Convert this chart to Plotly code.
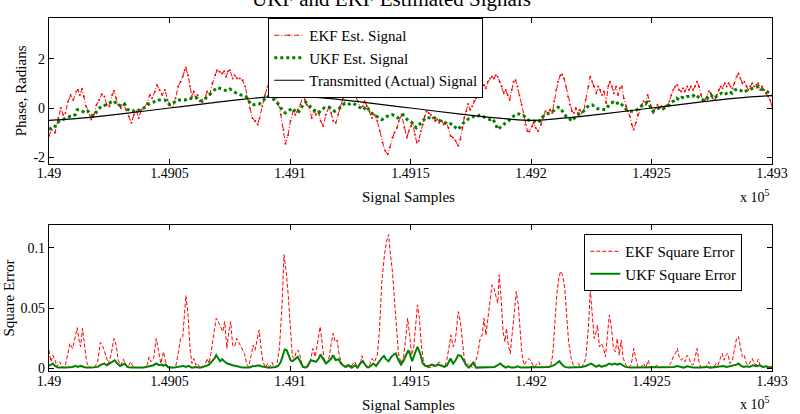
import plotly.graph_objects as go

X0 = 149000  # first sample index
x_tickvals = [149000, 149050, 149100, 149150, 149200, 149250, 149300]
x_ticktext = ["1.49", "1.4905", "1.491", "1.4915", "1.492", "1.4925", "1.493"]

# (sample offset from X0, value)
ekf_signal = [
    (0, -1.13), (1.1, -0.87), (2.5, -1.0), (3.8, -0.40), (4.9, 0.0), (5.9, -0.27), (6.8, -0.20), (7.9, 0.27),
    (9.0, 0.53), (10.1, 0.33), (11.3, 0.67), (12.0, 0.73), (12.8, 0.53), (13.7, 0.77), (14.5, 0.47), (15.4, 0.07),
    (16.4, -0.13), (17.5, -0.47), (18.6, -0.27), (19.7, 0.13), (20.8, 0.33), (21.9, 0.56), (23.0, 0.47), (24.0, 0.13),
    (25.1, 0.07), (26.2, 0.53), (27.0, 0.69), (27.9, 0.40), (28.7, 0.13), (29.8, 0.0), (30.9, 0.13), (32.0, -0.07),
    (33.1, -0.33), (34.2, -0.60), (35.2, -0.27), (36.3, -0.13), (37.3, -0.40), (38.3, -0.07), (39.3, 0.0), (40.7, 0.20),
    (41.8, 0.53), (42.8, 0.40), (43.9, 0.67), (44.8, 0.93), (45.9, 0.73), (47.0, 0.53), (48.1, 0.73), (49.2, 0.33),
    (50.3, 0.13), (51.4, 0.03), (52.5, 0.40), (53.6, 0.87), (54.6, 1.07), (55.5, 1.27), (56.3, 1.53), (56.8, 1.63),
    (57.7, 1.33), (58.5, 0.87), (59.3, 0.47), (60.1, 0.67), (60.9, 0.40), (61.7, 0.53), (62.6, 0.27), (63.7, 0.24),
    (64.8, 0.40), (65.6, 0.67), (66.7, 0.53), (67.8, 1.0), (68.9, 1.33), (69.7, 1.53), (70.8, 1.47), (71.9, 1.40),
    (72.7, 1.49), (73.5, 1.27), (74.3, 1.49), (75.1, 1.53), (76.2, 1.20), (77.0, 1.33), (78.1, 1.20), (79.2, 1.20),
    (80.3, 1.13), (81.4, 0.87), (82.4, 0.40), (83.3, 0.0), (84.4, -0.40), (85.5, -0.53), (86.6, -0.67), (87.4, -0.40),
    (88.5, 0.07), (89.6, 0.53), (90.7, 0.87), (91.5, 0.67), (92.3, 0.73), (93.2, 0.93), (94.0, 0.53), (95.1, 0.20),
    (96.2, -0.27), (97.3, -0.87), (98.1, -1.45), (99.2, -1.10), (100.2, -0.53), (101.3, -0.13), (102.2, -0.27),
    (103.2, -0.07), (104.3, 0.13), (105.4, 0.53), (106.3, 0.33), (107.0, 0.13), (108.1, 0.0), (109.0, -0.40),
    (110.0, -0.13), (110.8, -0.27), (111.8, -0.13), (112.7, -0.53), (113.8, -0.73), (114.9, -0.27), (116.0, 0.0),
    (117.1, -0.20), (117.9, -0.53), (119.0, -0.60), (120.0, -0.27), (120.9, 0.07), (122.0, 0.40), (122.8, 0.67),
    (123.9, 0.73), (124.8, 0.53), (125.6, 0.67), (126.4, 0.80), (127.2, 0.47), (128.2, 0.27), (129.1, 0.0),
    (130.2, 0.07), (131.0, 0.27), (131.9, 0.07), (133.0, -0.13), (134.0, -0.40), (135.1, -0.27), (136.2, -0.53),
    (137.3, -0.93), (138.4, -1.40), (139.5, -1.73), (140.6, -1.87), (141.4, -1.60), (142.5, -1.20), (143.3, -1.0),
    (144.4, -0.80), (145.2, -0.53), (146.3, -0.27), (147.4, -0.80), (148.5, -1.20), (149.3, -0.93), (150.2, -0.73),
    (151.0, -0.60), (151.8, -1.07), (152.6, -1.40), (153.4, -1.33), (154.3, -0.93), (155.1, -0.67), (155.9, -0.33),
    (156.7, -0.13), (157.5, -0.20), (158.4, -0.27), (159.2, -0.40), (160.3, -0.53), (161.1, -0.47), (161.9, -0.60),
    (163.0, -0.53), (163.8, -0.67), (164.9, -0.60), (165.7, -0.80), (166.6, -1.13), (167.6, -1.20), (168.7, -1.33),
    (169.8, -1.53), (170.7, -1.27), (171.5, -0.80), (172.3, -0.40), (173.1, -0.13), (173.9, 0.16), (174.8, -0.07),
    (175.6, 0.07), (176.4, 0.27), (177.2, 0.40), (178.0, 0.53), (178.9, 0.73), (179.7, 0.87), (180.5, 0.93),
    (181.3, 0.80), (182.1, 1.07), (183.0, 1.20), (183.8, 1.27), (184.6, 1.20), (185.4, 1.33), (186.2, 1.27),
    (187.0, 1.07), (187.9, 0.87), (188.7, 0.60), (189.5, 0.73), (190.3, 0.53), (191.1, 0.33), (192.0, 0.73),
    (192.8, 1.07), (193.6, 1.13), (194.4, 0.87), (195.2, 0.53), (196.1, 0.13), (196.9, -0.27), (197.7, -0.67),
    (198.5, -0.93), (199.4, -0.95), (200.4, -0.75), (201.1, -0.60), (201.9, -0.80), (203.0, -0.93), (204.1, -0.67),
    (204.9, -0.40), (206.0, -0.13), (207.1, -0.20), (207.9, -0.07), (208.8, -0.20), (209.6, 0.27), (210.4, 0.73),
    (211.2, 1.07), (212.2, 1.33), (212.9, 1.36), (213.7, 1.20), (214.5, 0.87), (215.3, 0.47), (216.1, 0.13),
    (217.0, -0.13), (217.8, -0.20), (218.6, 0.0), (219.4, -0.20), (220.2, -0.07), (221.1, -0.20), (221.9, -0.13),
    (222.7, 0.33), (223.8, 0.87), (224.6, 1.27), (225.4, 1.07), (226.2, 0.87), (227.1, 0.60), (227.9, 0.87),
    (228.7, 0.73), (229.5, 0.53), (230.3, 0.67), (231.2, 0.20), (232.0, 0.87), (232.8, 1.07), (233.6, 0.87),
    (234.4, 0.60), (235.3, 0.87), (236.1, 0.53), (236.9, 0.80), (237.7, 0.87), (238.5, 0.40), (239.4, 0.07),
    (240.2, -0.13), (241.0, -0.33), (241.8, -0.67), (242.6, -0.87), (243.5, -0.60), (244.3, -0.27), (245.1, -0.07),
    (245.9, 0.13), (246.7, 0.27), (247.6, 0.13), (248.4, 0.53), (249.2, 0.27), (250.0, 0.0), (250.8, -0.20),
    (251.7, 0.0), (252.5, 0.13), (253.3, 0.0), (254.1, 0.07), (254.9, -0.03), (255.8, 0.07), (256.6, 0.13),
    (257.4, 0.27), (258.2, 0.53), (259.0, 0.73), (259.9, 0.87), (260.7, 0.93), (261.5, 0.73), (262.3, 0.67),
    (263.1, 0.80), (263.9, 0.67), (264.8, 0.87), (265.6, 0.73), (266.4, 0.87), (267.2, 0.73), (268.0, 0.87),
    (268.9, 1.07), (269.7, 0.87), (270.5, 0.53), (271.3, 0.27), (272.1, 0.33), (273.0, 0.47), (273.8, 0.67),
    (274.6, 0.60), (275.4, 0.40), (276.3, 0.33), (277.1, 0.53), (277.9, 0.73), (278.7, 0.87), (279.5, 0.80),
    (280.4, 1.0), (281.2, 0.87), (282.0, 1.0), (282.8, 0.87), (283.6, 0.80), (284.4, 1.0), (285.3, 1.27),
    (286.1, 1.40), (286.9, 1.20), (287.7, 1.0), (288.5, 1.07), (289.4, 0.87), (290.2, 0.73), (291.0, 0.87),
    (291.8, 1.0), (292.6, 0.87), (293.5, 0.93), (294.3, 1.0), (295.1, 0.73), (295.9, 0.87), (296.7, 0.73),
    (297.5, 0.60), (298.4, 0.47), (299.2, 0.33), (300.0, 0.07),
]

ukf_signal = [
    (0, -0.87), (1.1, -0.80), (2.2, -0.80), (3.3, -0.60), (4.4, -0.53), (5.5, -0.47), (6.6, -0.43), (7.7, -0.40),
    (8.7, -0.33), (9.8, -0.33), (10.9, -0.27), (11.7, -0.07), (12.8, -0.07), (13.9, -0.13), (15.0, -0.20),
    (16.1, -0.13), (17.2, -0.27), (18.3, -0.33), (19.4, -0.20), (20.5, -0.07), (21.6, 0.07), (22.7, 0.07),
    (23.8, 0.16), (24.9, 0.20), (26.0, 0.24), (27.0, 0.29), (28.1, 0.16), (29.2, 0.13), (30.3, 0.07), (31.4, 0.16),
    (32.5, -0.03), (33.6, -0.13), (34.7, -0.13), (35.8, -0.07), (36.9, -0.11), (38.0, -0.03), (39.1, 0.0),
    (40.2, 0.03), (41.3, 0.16), (42.3, 0.20), (43.4, 0.24), (44.5, 0.33), (45.6, 0.33), (46.7, 0.33), (47.8, 0.33),
    (48.9, 0.29), (50.0, 0.13), (51.1, 0.16), (52.2, 0.24), (53.3, 0.33), (54.4, 0.33), (55.5, 0.33), (56.6, 0.33),
    (57.7, 0.40), (58.7, 0.40), (59.8, 0.37), (60.9, 0.43), (62.0, 0.33), (63.1, 0.29), (64.2, 0.29), (65.3, 0.43),
    (66.4, 0.53), (67.5, 0.64), (68.6, 0.73), (69.7, 0.83), (70.8, 0.80), (71.9, 0.77), (73.0, 0.73), (74.0, 0.69),
    (75.1, 0.77), (76.2, 0.69), (77.3, 0.64), (78.4, 0.56), (79.5, 0.53), (80.6, 0.53), (81.7, 0.47), (82.8, 0.27),
    (83.9, 0.13), (85.0, 0.13), (86.1, 0.13), (87.2, 0.16), (88.3, 0.24), (89.3, 0.33), (90.4, 0.47), (91.5, 0.47),
    (92.6, 0.37), (93.7, 0.33), (94.8, 0.20), (95.9, 0.07), (97.0, -0.13), (98.1, -0.20), (99.2, -0.13),
    (100.3, -0.05), (101.0, 0.0), (102.1, -0.13), (103.2, -0.20), (104.3, -0.07), (105.4, 0.13), (106.5, 0.24),
    (107.5, 0.13), (108.6, 0.03), (109.7, -0.07), (110.8, -0.13), (111.9, -0.20), (113.0, -0.07), (114.1, 0.0),
    (115.2, 0.0), (116.3, 0.03), (117.4, -0.07), (118.5, -0.13), (119.6, -0.07), (120.7, 0.0), (121.8, 0.11),
    (122.8, 0.20), (123.9, 0.16), (125.0, 0.16), (126.1, 0.20), (127.2, 0.13), (128.3, 0.07), (129.4, 0.0),
    (130.5, -0.07), (131.6, 0.07), (132.7, -0.07), (133.8, -0.20), (134.9, -0.27), (136.0, -0.33), (137.1, -0.40),
    (138.1, -0.47), (139.2, -0.40), (140.3, -0.33), (141.4, -0.33), (142.5, -0.27), (143.6, -0.33), (144.7, -0.40),
    (145.8, -0.33), (146.9, -0.27), (148.0, -0.40), (149.1, -0.51), (150.2, -0.56), (151.3, -0.67), (152.4, -0.80),
    (153.4, -0.69), (154.5, -0.60), (155.6, -0.47), (156.7, -0.37), (157.8, -0.40), (158.9, -0.43), (160.0, -0.40),
    (161.1, -0.43), (162.2, -0.51), (163.3, -0.53), (164.4, -0.60), (165.5, -0.67), (166.6, -0.64), (167.7, -0.67),
    (168.7, -0.80), (169.8, -0.87), (170.9, -0.73), (172.0, -0.60), (173.1, -0.53), (174.2, -0.43), (175.3, -0.40),
    (176.4, -0.33), (177.5, -0.37), (178.6, -0.29), (179.7, -0.33), (180.8, -0.37), (181.9, -0.40), (183.0, -0.47),
    (184.0, -0.43), (185.1, -0.60), (186.2, -0.87), (187.3, -0.77), (188.4, -0.67), (189.5, -0.60), (190.6, -0.53),
    (191.7, -0.40), (192.8, -0.33), (193.9, -0.24), (195.0, -0.24), (196.1, -0.27), (197.2, -0.33), (198.3, -0.47),
    (199.3, -0.51), (200.4, -0.53), (201.4, -0.53), (202.5, -0.60), (203.6, -0.53), (204.7, -0.37), (205.8, -0.27),
    (206.9, -0.24), (207.9, -0.20), (209.0, -0.13), (210.1, -0.07), (211.2, 0.03), (212.3, 0.0), (213.4, -0.20),
    (214.5, -0.33), (215.6, -0.37), (216.7, -0.53), (217.8, -0.43), (218.9, -0.33), (220.0, -0.24), (221.1, -0.20),
    (222.2, -0.07), (223.2, 0.03), (224.3, 0.11), (225.4, 0.13), (226.5, 0.03), (227.6, -0.03), (228.7, -0.03),
    (229.8, -0.04), (230.9, -0.07), (232.0, 0.07), (233.1, 0.20), (234.2, 0.24), (235.3, 0.16), (236.4, 0.24),
    (237.5, 0.16), (238.5, 0.07), (239.6, -0.07), (240.7, -0.13), (241.8, -0.13), (242.9, -0.13), (244.0, -0.07),
    (245.1, 0.03), (246.2, 0.13), (247.3, 0.20), (248.4, 0.24), (249.5, 0.07), (250.6, -0.13), (251.7, -0.07),
    (252.8, 0.0), (253.8, 0.03), (254.9, -0.03), (256.0, 0.03), (257.1, 0.11), (258.2, 0.24), (259.3, 0.29),
    (260.4, 0.40), (261.5, 0.33), (262.6, 0.43), (263.7, 0.40), (264.8, 0.47), (265.9, 0.47), (267.0, 0.47),
    (268.1, 0.56), (269.2, 0.47), (270.3, 0.37), (271.4, 0.33), (272.5, 0.29), (273.6, 0.47), (274.7, 0.53),
    (275.8, 0.40), (276.8, 0.47), (277.9, 0.56), (279.0, 0.60), (280.1, 0.53), (281.2, 0.60), (282.3, 0.67),
    (283.4, 0.60), (284.6, 0.73), (285.7, 0.77), (286.8, 0.73), (287.9, 0.64), (289.0, 0.67), (290.1, 0.73),
    (291.2, 0.77), (292.3, 0.80), (293.4, 0.83), (294.5, 0.87), (295.6, 0.77), (296.7, 0.73), (297.9, 0.67),
    (299.0, 0.60), (300.0, 0.51),
]

transmitted = [
    (0, -0.50), (10, -0.44), (20, -0.35), (30, -0.24), (40, -0.12), (50, 0.0), (60, 0.12), (70, 0.24), (80, 0.35),
    (90, 0.44), (100, 0.50), (110, 0.44), (120, 0.35), (130, 0.24), (140, 0.12), (150, 0.0), (160, -0.12),
    (170, -0.24), (180, -0.35), (190, -0.44), (200, -0.50), (210, -0.44), (220, -0.35), (230, -0.24), (240, -0.12),
    (250, 0.0), (260, 0.12), (270, 0.24), (280, 0.35), (290, 0.44), (300, 0.50),
]

ekf_sq_err = [
    (0, 0.0153), (0.8, 0.0056), (1.6, 0.0111), (2.5, 0.0069), (3.3, 0.0014), (4.4, 0.0056), (5.5, 0.0014),
    (6.6, 0.0008), (7.7, 0.0111), (8.7, 0.0208), (9.8, 0.0167), (10.9, 0.0264), (11.7, 0.0339), (12.6, 0.0222),
    (13.1, 0.0181), (13.9, 0.0333), (14.8, 0.0181), (15.6, 0.0056), (16.4, 0.0014), (17.5, 0.0008), (18.9, 0.0008),
    (20.2, 0.0056), (21.3, 0.0217), (22.4, 0.0181), (23.5, 0.0111), (24.6, 0.0042), (25.7, 0.0111), (26.5, 0.0194),
    (27.0, 0.0250), (27.9, 0.0194), (28.7, 0.0069), (29.8, 0.0028), (30.9, 0.0078), (31.7, 0.0028), (32.8, 0.0014),
    (33.9, 0.0056), (35.0, 0.0014), (36.6, 0.0008), (38.0, 0.0008), (39.3, 0.0008), (40.7, 0.0028), (41.5, 0.0097),
    (42.3, 0.0056), (43.4, 0.0083), (44.5, 0.0250), (45.6, 0.0125), (46.4, 0.0042), (47.5, 0.0139), (48.4, 0.0056),
    (49.5, 0.0008), (50.8, 0.0008), (52.5, 0.0008), (53.6, 0.0125), (54.6, 0.0250), (55.5, 0.0264), (56.3, 0.0500),
    (56.8, 0.0606), (57.7, 0.0444), (58.5, 0.0167), (59.3, 0.0042), (60.1, 0.0083), (60.9, 0.0028), (61.7, 0.0042),
    (62.6, 0.0008), (63.7, 0.0008), (64.8, 0.0028), (65.6, 0.0083), (66.4, 0.0042), (67.2, 0.0125), (68.3, 0.0278),
    (69.4, 0.0417), (70.5, 0.0375), (71.3, 0.0333), (72.1, 0.0306), (72.9, 0.0389), (73.8, 0.0167), (74.6, 0.0306),
    (75.4, 0.0389), (76.2, 0.0194), (77.0, 0.0181), (77.9, 0.0250), (79.0, 0.0208), (80.1, 0.0167), (81.1, 0.0125),
    (82.0, 0.0042), (82.8, 0.0014), (83.9, 0.0111), (84.7, 0.0194), (85.5, 0.0153), (86.3, 0.0222), (87.2, 0.0319),
    (88.0, 0.0167), (88.8, 0.0056), (89.9, 0.0008), (90.7, 0.0042), (91.5, 0.0014), (92.6, 0.0050), (93.4, 0.0008),
    (94.5, 0.0028), (95.6, 0.0167), (96.7, 0.0528), (97.5, 0.0944), (98.4, 0.0806), (99.3, 0.0600), (100.2, 0.0300),
    (101.0, 0.0097), (101.8, 0.0083), (102.6, 0.0139), (103.4, 0.0153), (104.3, 0.0097), (105.1, 0.0014),
    (106.2, 0.0008), (107.3, 0.0008), (108.4, 0.0056), (109.5, 0.0167), (110.5, 0.0097), (111.6, 0.0222),
    (112.5, 0.0347), (113.3, 0.0222), (114.1, 0.0083), (115.2, 0.0042), (116.3, 0.0097), (117.1, 0.0208),
    (117.9, 0.0292), (118.7, 0.0222), (119.6, 0.0236), (120.4, 0.0111), (121.5, 0.0042), (122.6, 0.0008),
    (123.7, 0.0042), (124.8, 0.0008), (125.8, 0.0028), (126.9, 0.0056), (128.0, 0.0008), (129.1, 0.0028),
    (129.9, 0.0106), (130.8, 0.0028), (131.9, 0.0008), (133.0, 0.0028), (134.0, 0.0083), (135.1, 0.0056),
    (136.2, 0.0111), (137.1, 0.0306), (138.1, 0.0722), (139.2, 0.0944), (140.1, 0.1056), (140.9, 0.1111),
    (141.7, 0.0944), (142.5, 0.0806), (143.3, 0.0583), (144.2, 0.0333), (145.0, 0.0125), (146.1, 0.0042),
    (147.2, 0.0111), (148.0, 0.0250), (148.8, 0.0417), (149.6, 0.0292), (150.4, 0.0111), (151.3, 0.0167),
    (152.1, 0.0333), (152.9, 0.0528), (153.7, 0.0417), (154.5, 0.0194), (155.4, 0.0056), (156.5, 0.0008),
    (157.5, 0.0008), (158.6, 0.0008), (159.7, 0.0022), (160.8, 0.0028), (161.9, 0.0056), (163.0, 0.0028),
    (164.1, 0.0008), (165.2, 0.0083), (166.0, 0.0194), (166.8, 0.0278), (167.7, 0.0181), (168.5, 0.0222),
    (169.3, 0.0361), (169.8, 0.0472), (170.7, 0.0389), (171.5, 0.0222), (172.3, 0.0083), (173.4, 0.0028),
    (174.5, 0.0042), (175.6, 0.0008), (176.7, 0.0042), (177.8, 0.0111), (178.9, 0.0250), (179.7, 0.0278),
    (180.5, 0.0417), (181.3, 0.0278), (182.1, 0.0417), (183.0, 0.0583), (183.8, 0.0694), (184.6, 0.0667),
    (185.4, 0.0611), (186.2, 0.0542), (186.8, 0.0778), (187.6, 0.0583), (188.4, 0.0306), (189.2, 0.0222),
    (189.8, 0.0333), (190.6, 0.0194), (191.4, 0.0125), (192.2, 0.0306), (193.1, 0.0500), (193.9, 0.0639),
    (194.7, 0.0528), (195.5, 0.0306), (196.3, 0.0111), (197.2, 0.0028), (198.3, 0.0069), (199.1, 0.0083),
    (200.2, 0.0056), (201.1, 0.0014), (202.2, 0.0028), (203.3, 0.0056), (204.1, 0.0014), (205.2, 0.0008),
    (206.3, 0.0022), (207.4, 0.0008), (208.2, 0.0028), (209.0, 0.0111), (209.9, 0.0389), (210.7, 0.0611),
    (211.5, 0.0750), (212.3, 0.0806), (213.1, 0.0778), (214.0, 0.0667), (214.8, 0.0444), (215.6, 0.0222),
    (216.7, 0.0083), (217.8, 0.0014), (218.9, 0.0008), (219.7, 0.0042), (220.5, 0.0008), (221.6, 0.0028),
    (222.7, 0.0083), (223.8, 0.0333), (224.6, 0.0653), (225.4, 0.0444), (226.2, 0.0250), (227.1, 0.0306),
    (227.6, 0.0361), (228.4, 0.0181), (229.3, 0.0208), (230.1, 0.0167), (230.9, 0.0097), (231.7, 0.0278),
    (232.5, 0.0444), (233.4, 0.0333), (234.2, 0.0167), (235.0, 0.0139), (235.8, 0.0250), (236.6, 0.0111),
    (237.4, 0.0236), (238.3, 0.0083), (239.4, 0.0028), (240.5, 0.0008), (241.6, 0.0028), (242.6, 0.0167),
    (243.5, 0.0083), (244.3, 0.0014), (245.6, 0.0008), (246.7, 0.0042), (247.6, 0.0008), (248.7, 0.0069),
    (249.5, 0.0008), (250.8, 0.0008), (252.2, 0.0028), (253.3, 0.0008), (254.4, 0.0008), (255.8, 0.0008),
    (256.9, 0.0008), (257.9, 0.0042), (259.0, 0.0097), (259.9, 0.0125), (260.7, 0.0167), (261.5, 0.0097),
    (262.3, 0.0069), (263.1, 0.0083), (263.9, 0.0056), (264.8, 0.0111), (265.6, 0.0083), (266.4, 0.0042),
    (267.2, 0.0028), (268.0, 0.0083), (268.9, 0.0167), (269.7, 0.0056), (270.5, 0.0008), (271.9, 0.0008),
    (273.0, 0.0028), (273.8, 0.0056), (274.6, 0.0008), (275.7, 0.0008), (276.8, 0.0042), (277.6, 0.0028),
    (278.4, 0.0069), (279.3, 0.0125), (280.1, 0.0069), (280.9, 0.0111), (281.7, 0.0125), (282.5, 0.0042),
    (283.6, 0.0069), (284.4, 0.0167), (285.3, 0.0250), (286.1, 0.0264), (286.9, 0.0194), (287.7, 0.0097),
    (288.5, 0.0111), (289.4, 0.0042), (290.2, 0.0028), (291.0, 0.0056), (291.8, 0.0083), (292.6, 0.0042),
    (293.5, 0.0028), (294.3, 0.0078), (295.1, 0.0028), (296.2, 0.0008), (297.3, 0.0022), (298.4, 0.0008),
    (299.5, 0.0028), (300.0, 0.0008),
]

ukf_sq_err = [
    (0, 0.0022), (0.8, 0.0033), (1.6, 0.0042), (2.5, 0.0022), (3.8, 0.0008), (6.6, 0.0008), (8.7, 0.0008),
    (9.8, 0.0014), (10.9, 0.0022), (12.0, 0.0014), (13.1, 0.0022), (14.2, 0.0014), (15.3, 0.0008), (17.5, 0.0008),
    (20.2, 0.0014), (21.6, 0.0033), (23.0, 0.0042), (24.0, 0.0028), (25.1, 0.0042), (26.2, 0.0056), (27.3, 0.0069),
    (28.4, 0.0042), (29.5, 0.0022), (30.6, 0.0033), (31.4, 0.0042), (32.5, 0.0014), (33.9, 0.0008), (39.3, 0.0008),
    (40.7, 0.0014), (42.1, 0.0022), (43.4, 0.0028), (44.5, 0.0042), (45.6, 0.0028), (46.7, 0.0033), (47.5, 0.0022),
    (48.4, 0.0033), (49.5, 0.0008), (51.6, 0.0008), (53.0, 0.0014), (54.4, 0.0019), (55.7, 0.0022), (56.8, 0.0014),
    (57.9, 0.0022), (59.3, 0.0008), (61.2, 0.0014), (62.6, 0.0008), (63.9, 0.0014), (65.3, 0.0022), (66.4, 0.0033),
    (67.5, 0.0056), (68.6, 0.0083), (69.4, 0.0111), (70.2, 0.0083), (71.0, 0.0061), (71.9, 0.0078), (72.9, 0.0056),
    (74.0, 0.0042), (75.1, 0.0033), (76.2, 0.0028), (77.6, 0.0022), (80.3, 0.0008), (83.1, 0.0008), (84.4, 0.0019),
    (85.8, 0.0022), (86.9, 0.0028), (88.0, 0.0019), (89.3, 0.0014), (91.3, 0.0008), (94.0, 0.0014), (95.1, 0.0022),
    (96.2, 0.0056), (97.0, 0.0111), (97.8, 0.0158), (98.6, 0.0153), (99.5, 0.0111), (100.3, 0.0069),
    (101.0, 0.0061), (102.1, 0.0083), (103.2, 0.0097), (104.3, 0.0056), (105.4, 0.0014), (106.5, 0.0008),
    (107.5, 0.0028), (108.6, 0.0069), (109.7, 0.0061), (110.8, 0.0056), (111.9, 0.0083), (112.7, 0.0117),
    (113.8, 0.0078), (114.9, 0.0042), (116.0, 0.0061), (117.1, 0.0083), (117.9, 0.0111), (119.0, 0.0069),
    (120.1, 0.0078), (121.2, 0.0042), (122.3, 0.0022), (123.4, 0.0014), (124.5, 0.0028), (125.6, 0.0008),
    (127.0, 0.0028), (128.0, 0.0008), (129.1, 0.0042), (130.2, 0.0061), (131.3, 0.0028), (132.4, 0.0008),
    (133.5, 0.0022), (134.6, 0.0042), (135.7, 0.0022), (136.8, 0.0056), (137.9, 0.0083), (139.0, 0.0106),
    (139.8, 0.0078), (140.9, 0.0061), (142.0, 0.0097), (143.1, 0.0117), (143.9, 0.0125), (145.0, 0.0069),
    (146.1, 0.0033), (147.2, 0.0069), (148.3, 0.0125), (149.1, 0.0153), (149.9, 0.0111), (150.7, 0.0061),
    (151.8, 0.0125), (152.9, 0.0181), (154.0, 0.0125), (155.1, 0.0042), (156.2, 0.0022), (157.5, 0.0022),
    (158.9, 0.0033), (160.3, 0.0022), (161.6, 0.0033), (163.0, 0.0022), (164.1, 0.0014), (165.2, 0.0028),
    (166.6, 0.0083), (167.7, 0.0042), (168.7, 0.0069), (169.8, 0.0111), (170.9, 0.0106), (172.0, 0.0069),
    (173.1, 0.0028), (174.2, 0.0008), (175.3, 0.0033), (176.1, 0.0050), (177.2, 0.0008), (179.4, 0.0008),
    (182.1, 0.0008), (184.9, 0.0014), (186.2, 0.0028), (187.3, 0.0042), (188.4, 0.0022), (189.5, 0.0008),
    (190.6, 0.0019), (191.7, 0.0008), (193.1, 0.0008), (194.4, 0.0019), (195.8, 0.0008), (198.5, 0.0008),
    (201.9, 0.0008), (204.7, 0.0008), (207.4, 0.0014), (209.6, 0.0028), (210.7, 0.0042), (211.8, 0.0061),
    (212.9, 0.0033), (214.0, 0.0014), (215.6, 0.0008), (218.3, 0.0008), (221.1, 0.0014), (222.7, 0.0022),
    (223.8, 0.0033), (224.9, 0.0042), (226.0, 0.0028), (227.1, 0.0014), (228.2, 0.0028), (229.3, 0.0014),
    (230.3, 0.0022), (231.4, 0.0028), (232.5, 0.0042), (233.6, 0.0033), (234.7, 0.0042), (235.8, 0.0033),
    (236.9, 0.0042), (238.0, 0.0028), (239.1, 0.0014), (241.6, 0.0008), (244.3, 0.0008), (247.0, 0.0014),
    (249.7, 0.0008), (252.5, 0.0008), (255.2, 0.0008), (257.9, 0.0008), (259.3, 0.0014), (260.7, 0.0022),
    (262.0, 0.0014), (263.4, 0.0008), (264.8, 0.0019), (266.1, 0.0014), (267.5, 0.0008), (270.2, 0.0008),
    (273.0, 0.0014), (274.3, 0.0008), (277.1, 0.0014), (278.4, 0.0019), (279.8, 0.0022), (281.2, 0.0014),
    (282.5, 0.0019), (283.9, 0.0022), (285.3, 0.0033), (286.1, 0.0042), (287.2, 0.0022), (288.3, 0.0014),
    (289.4, 0.0019), (290.7, 0.0014), (292.1, 0.0028), (293.5, 0.0019), (294.8, 0.0028), (296.2, 0.0014),
    (297.6, 0.0019), (298.9, 0.0008), (300.0, 0.0008),
]


def xs(pts):
    return [X0 + p[0] for p in pts]


def ys(pts):
    return [p[1] for p in pts]


FONT = "Liberation Serif, Times New Roman, serif"
RED = "#ff0000"
GREEN = "#008000"

fig = go.Figure()
fig.add_trace(go.Scatter(
    x=xs(ekf_signal), y=ys(ekf_signal), name="EKF Est. Signal", mode="lines+markers",
    line=dict(color=RED, width=1, dash="5px,2px,1px,2px"), marker=dict(color=RED, size=2),
    xaxis="x", yaxis="y", legend="legend"))
fig.add_trace(go.Scatter(
    x=xs(ukf_signal), y=ys(ukf_signal), name="UKF Est. Signal", mode="lines",
    line=dict(color=GREEN, width=3, dash="dot"), xaxis="x", yaxis="y", legend="legend"))
fig.add_trace(go.Scatter(
    x=xs(transmitted), y=ys(transmitted), name="Transmitted (Actual) Signal", mode="lines",
    line=dict(color="black", width=1.2, shape="spline"), xaxis="x", yaxis="y", legend="legend"))
fig.add_trace(go.Scatter(
    x=xs(ekf_sq_err), y=ys(ekf_sq_err), name="EKF Square Error", mode="lines",
    line=dict(color=RED, width=1, dash="4px,2px"), xaxis="x2", yaxis="y2", legend="legend2"))
fig.add_trace(go.Scatter(
    x=xs(ukf_sq_err), y=ys(ukf_sq_err), name="UKF Square Error", mode="lines",
    line=dict(color=GREEN, width=2), xaxis="x2", yaxis="y2", legend="legend2"))

axis_common = dict(showline=True, linecolor="black", linewidth=1.3, mirror="ticks", ticks="inside",
                   ticklen=5, tickcolor="black", tickwidth=1, showgrid=False, zeroline=False,
                   tickfont=dict(family=FONT, size=14, color="black"))

fig.update_layout(
    width=800, height=414,
    margin=dict(l=49, r=19, t=18, b=43),
    paper_bgcolor="white", plot_bgcolor="white",
    font=dict(family=FONT, size=14, color="black"),
    xaxis=dict(domain=[0, 1], anchor="y", range=[149000, 149300], tickvals=x_tickvals, ticktext=x_ticktext,
               ticklabelstandoff=-4, **axis_common),
    yaxis=dict(domain=[0.5864, 1], anchor="x", range=[-2.27, 3.65], tickvals=[-2, 0, 2],
               ticktext=["-2", "0", "2"], **axis_common),
    xaxis2=dict(domain=[0, 1], anchor="y2", range=[149000, 149300], tickvals=x_tickvals, ticktext=x_ticktext,
                ticklabelstandoff=-3, **axis_common),
    yaxis2=dict(domain=[0, 0.4136], anchor="x2", range=[-0.002, 0.119], tickvals=[0, 0.05, 0.1],
                ticktext=["0", "0.05", "0.1"], **axis_common),
    legend=dict(x=0.3033, y=1.0, xanchor="left", yanchor="top", bgcolor="white", bordercolor="black",
                borderwidth=1, font=dict(family=FONT, size=15, color="black"), itemwidth=30, tracegroupgap=0),
    legend2=dict(x=0.7404, y=0.388, xanchor="left", yanchor="top", bgcolor="white", bordercolor="black",
                 borderwidth=1, font=dict(family=FONT, size=15, color="black"), itemwidth=30, tracegroupgap=0),
    showlegend=True,
)

ann_font = dict(family=FONT, size=15, color="black")
fig.add_annotation(text="UKF and EKF Estimated Signals", xref="paper", yref="paper", x=0.4734, y=1.0142,
                   xanchor="center", yanchor="bottom", showarrow=False, font=dict(family=FONT, size=21, color="black"))
fig.add_annotation(text="Signal Samples", xref="paper", yref="paper", x=0.4966, y=0.4929,
                   xanchor="center", yanchor="middle", showarrow=False, font=ann_font)
fig.add_annotation(text="Signal Samples", xref="paper", yref="paper", x=0.4966, y=-0.0963,
                   xanchor="center", yanchor="middle", showarrow=False, font=ann_font)
fig.add_annotation(text="x 10<sup>5</sup>", xref="paper", yref="paper", x=1.0, y=0.4958,
                   xanchor="right", yanchor="middle", showarrow=False, font=dict(family=FONT, size=14, color="black"))
fig.add_annotation(text="x 10<sup>5</sup>", xref="paper", yref="paper", x=1.0, y=-0.0907,
                   xanchor="right", yanchor="middle", showarrow=False, font=dict(family=FONT, size=14, color="black"))
fig.add_annotation(text="Phase, Radians", xref="paper", yref="paper", x=-0.0383, y=0.7932, textangle=-90,
                   xanchor="center", yanchor="middle", showarrow=False, font=ann_font)
fig.add_annotation(text="Square Error", xref="paper", yref="paper", x=-0.056, y=0.2068, textangle=-90,
                   xanchor="center", yanchor="middle", showarrow=False, font=ann_font)

fig.write_html("out.html")
